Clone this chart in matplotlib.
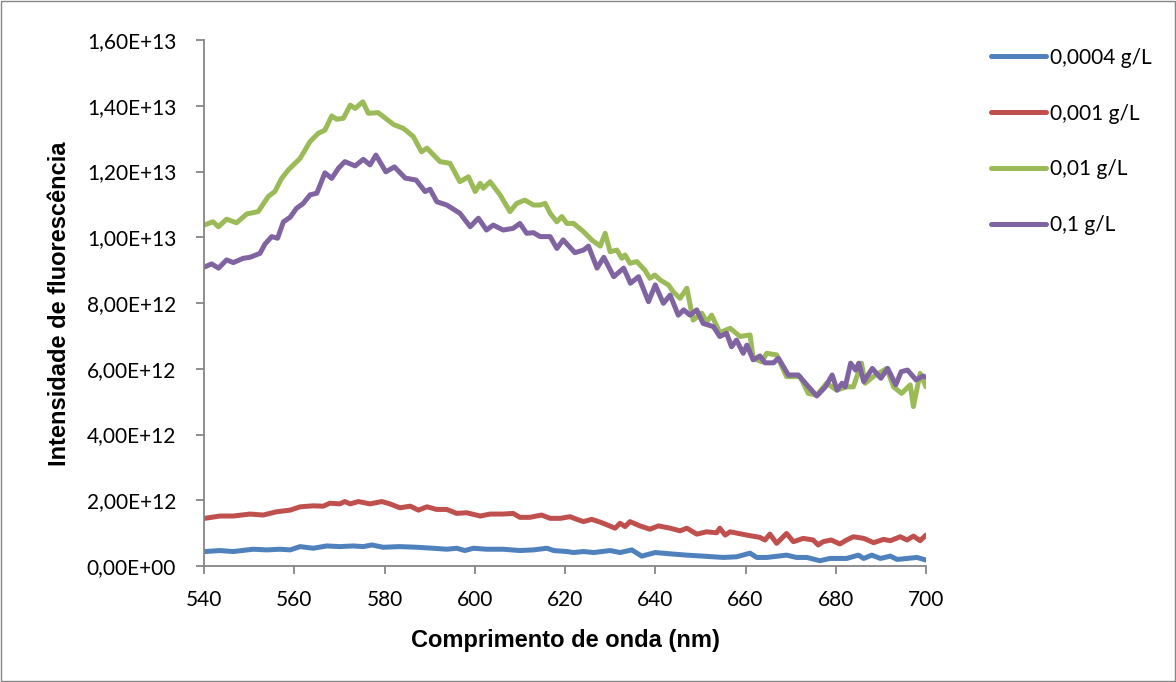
#!/usr/bin/env python3
"""Fluorescence emission spectra for four concentrations."""

import matplotlib
matplotlib.use("Agg")
import matplotlib.pyplot as plt
from matplotlib.patches import Rectangle
from matplotlib.ticker import FuncFormatter, MultipleLocator

# values in units of 1e12
wl_0004 = [540.2, 543.5, 546.5, 550.9, 553.9, 556.8, 559.1, 561.3, 564.2, 567.2, 570.1,
           573.1, 575.3, 577.2, 579.7, 583.4, 587.1, 590.8, 593.8, 596.0, 597.8, 599.7,
           602.6, 606.3, 610.0, 613.0, 616.0, 617.5, 620.4, 621.9, 624.1, 626.4, 630.0,
           632.2, 634.8, 637.0, 640.0, 643.3, 647.0, 650.6, 655.1, 658.0, 661.0, 662.5,
           664.7, 669.1, 671.3, 673.6, 676.5, 678.7, 682.4, 685.0, 686.2, 688.0, 689.9,
           692.1, 693.6, 695.8, 698.0, 700.0]
int_0004 = [0.44, 0.47, 0.44, 0.51, 0.49, 0.51, 0.49, 0.59, 0.54, 0.61, 0.59,
            0.61, 0.59, 0.64, 0.57, 0.59, 0.57, 0.54, 0.51, 0.54, 0.47, 0.54,
            0.51, 0.51, 0.47, 0.49, 0.54, 0.47, 0.44, 0.41, 0.44, 0.41, 0.47,
            0.41, 0.49, 0.30, 0.41, 0.37, 0.33, 0.30, 0.26, 0.28, 0.39, 0.26,
            0.26, 0.33, 0.26, 0.26, 0.16, 0.23, 0.23, 0.33, 0.23, 0.33, 0.23,
            0.30, 0.20, 0.23, 0.26, 0.18]

wl_001 = [540.2, 543.5, 546.5, 550.2, 553.1, 556.1, 559.1, 561.3, 564.2, 566.4, 567.9,
          570.1, 571.2, 572.4, 574.2, 576.8, 579.4, 581.2, 583.4, 585.7, 587.5, 589.4,
          591.6, 593.8, 596.0, 598.2, 601.2, 603.4, 606.3, 608.5, 610.0, 612.2, 614.8,
          616.7, 619.0, 621.1, 622.6, 624.1, 625.9, 628.1, 631.1, 632.2, 633.3, 634.4,
          636.6, 638.8, 640.7, 643.3, 645.5, 647.0, 649.2, 651.4, 653.6, 654.3, 655.5,
          656.6, 660.3, 663.2, 664.3, 665.4, 666.9, 669.1, 670.6, 672.8, 675.0, 676.1,
          677.2, 679.0, 680.9, 682.4, 683.9, 686.2, 688.4, 690.6, 692.1, 694.3, 695.8,
          697.2, 698.7, 700.0]
int_001 = [1.45, 1.52, 1.52, 1.58, 1.55, 1.65, 1.70, 1.80, 1.83, 1.82, 1.91,
           1.89, 1.96, 1.89, 1.96, 1.89, 1.96, 1.89, 1.77, 1.82, 1.70, 1.80,
           1.72, 1.72, 1.60, 1.62, 1.52, 1.58, 1.58, 1.60, 1.48, 1.48, 1.55,
           1.45, 1.45, 1.50, 1.42, 1.35, 1.42, 1.32, 1.15, 1.30, 1.20, 1.35,
           1.22, 1.12, 1.22, 1.15, 1.07, 1.15, 0.97, 1.04, 1.01, 1.15, 0.94,
           1.04, 0.94, 0.87, 0.79, 0.97, 0.69, 0.99, 0.74, 0.84, 0.79, 0.64,
           0.74, 0.79, 0.67, 0.79, 0.89, 0.84, 0.71, 0.81, 0.77, 0.89, 0.79,
           0.91, 0.77, 0.94]

wl_01 = [540.0, 542.0, 543.2, 545.0, 547.2, 549.5, 552.0, 554.3, 555.7, 557.2, 558.7,
         561.3, 563.5, 565.3, 566.8, 568.3, 569.4, 570.9, 572.4, 573.5, 575.2, 576.4,
         578.6, 582.0, 584.2, 586.4, 588.2, 589.4, 592.3, 594.5, 596.7, 598.6, 600.1,
         601.2, 601.9, 603.4, 605.6, 607.8, 609.3, 611.1, 613.0, 614.5, 615.6, 616.7,
         618.2, 619.3, 620.4, 621.9, 624.1, 625.9, 627.8, 628.9, 630.0, 631.5, 632.6,
         633.3, 634.4, 635.9, 637.7, 638.8, 639.9, 641.1, 642.9, 644.0, 645.5, 647.0,
         648.4, 650.3, 651.4, 652.5, 654.3, 656.6, 658.8, 661.0, 661.7, 663.6, 664.7,
         666.9, 669.1, 672.1, 673.9, 675.8, 678.0, 680.2, 682.4, 683.9, 685.7, 686.5,
         688.3, 691.3, 692.8, 694.6, 696.5, 697.2, 698.7, 700.0]
int_01 = [10.37, 10.47, 10.32, 10.55, 10.44, 10.71, 10.78, 11.25, 11.39, 11.79, 12.05,
          12.40, 12.91, 13.16, 13.26, 13.69, 13.59, 13.62, 14.02, 13.92, 14.12, 13.77,
          13.79, 13.43, 13.31, 13.06, 12.60, 12.71, 12.30, 12.25, 11.69, 11.84, 11.39,
          11.64, 11.49, 11.69, 11.29, 10.78, 11.03, 11.13, 10.98, 10.98, 11.03, 10.73,
          10.47, 10.63, 10.42, 10.42, 10.17, 9.92, 9.73, 10.12, 9.56, 9.61, 9.36,
          9.46, 9.21, 9.26, 9.00, 8.75, 8.85, 8.70, 8.55, 8.34, 8.14, 8.45,
          7.48, 7.69, 7.43, 7.63, 7.10, 7.23, 6.98, 7.03, 6.32, 6.21, 6.47,
          6.42, 5.76, 5.76, 5.25, 5.20, 5.56, 5.35, 5.45, 5.45, 6.17, 5.56,
          5.76, 6.01, 5.45, 5.25, 5.51, 4.85, 5.86, 5.45]

wl_1 = [540.2, 541.7, 543.2, 545.0, 546.5, 548.7, 550.2, 552.4, 553.5, 555.0, 556.3,
        557.6, 559.1, 560.5, 562.0, 563.5, 565.0, 566.8, 568.3, 569.8, 571.2, 573.5,
        575.3, 576.8, 578.1, 580.3, 582.2, 584.6, 587.0, 589.0, 590.1, 591.6, 593.8,
        596.7, 599.0, 600.8, 602.6, 604.1, 606.3, 608.5, 610.0, 611.5, 613.0, 614.5,
        616.7, 618.2, 619.6, 622.2, 624.1, 625.2, 627.1, 628.6, 630.8, 633.0, 634.5,
        636.3, 638.5, 640.0, 641.8, 643.3, 645.1, 646.3, 647.7, 649.2, 650.6, 652.9,
        654.3, 655.8, 656.9, 658.0, 659.5, 660.3, 661.7, 663.2, 664.3, 666.2, 667.3,
        669.5, 671.7, 673.6, 675.8, 677.7, 679.2, 680.3, 681.4, 682.1, 683.3, 684.4,
        685.1, 686.2, 688.1, 690.0, 691.5, 693.3, 694.5, 695.9, 697.8, 699.3, 700.0]
int_1 = [9.10, 9.19, 9.06, 9.31, 9.23, 9.36, 9.39, 9.51, 9.79, 10.02, 9.97,
         10.47, 10.61, 10.88, 11.03, 11.29, 11.34, 11.96, 11.79, 12.10, 12.30, 12.17,
         12.37, 12.20, 12.50, 11.99, 12.14, 11.80, 11.74, 11.39, 11.46, 11.08, 10.98,
         10.73, 10.32, 10.58, 10.22, 10.37, 10.22, 10.27, 10.42, 10.12, 10.14, 10.02,
         10.02, 9.66, 9.92, 9.53, 9.61, 9.73, 9.06, 9.39, 8.80, 9.06, 8.60,
         8.80, 8.04, 8.55, 7.99, 8.24, 7.63, 7.79, 7.63, 7.79, 7.38, 7.28,
         6.98, 7.08, 6.67, 6.87, 6.47, 6.72, 6.27, 6.39, 6.18, 6.18, 6.32,
         5.81, 5.81, 5.51, 5.17, 5.45, 5.81, 5.35, 5.56, 5.45, 6.17, 5.96,
         6.17, 5.61, 6.01, 5.71, 6.01, 5.51, 5.91, 5.96, 5.66, 5.78, 5.74]

series = [
    ("0,0004 g/L", wl_0004, int_0004, "#4F81BD"),
    ("0,001 g/L", wl_001, int_001, "#C0504D"),
    ("0,01 g/L", wl_01, int_01, "#9BBB59"),
    ("0,1 g/L", wl_1, int_1, "#8064A2"),
]

W, H = 1176, 682
fig = plt.figure(figsize=(W / 100, H / 100), dpi=100)
ax = fig.add_axes([204 / W, 1 - 566 / H, (926 - 204) / W, (566 - 40) / H])

for label, x, y, color in series:
    ax.plot(x, [v * 1e12 for v in y], color=color, linewidth=3.6, label=label,
            solid_joinstyle="round", solid_capstyle="round")

ax.set_xlim(540, 700)
ax.set_ylim(0, 1.6e13)
ax.xaxis.set_major_locator(MultipleLocator(20))
ax.yaxis.set_major_locator(MultipleLocator(2e12))


def sci_comma(v, pos):
    if v == 0:
        return "0,00E+00"
    s = f"{v:.2E}"
    mant, exp = s.split("E")
    return f"{mant.replace('.', ',')}E{exp[0]}{int(exp[1:]):02d}"


ax.yaxis.set_major_formatter(FuncFormatter(sci_comma))

axis_gray = "#868686"
for side in ("top", "right"):
    ax.spines[side].set_visible(False)
for side in ("left", "bottom"):
    ax.spines[side].set_color(axis_gray)
    ax.spines[side].set_linewidth(1.3)
ax.tick_params(axis="both", colors=axis_gray, width=1.3, length=6, labelcolor="black",
               labelsize=15)
ax.tick_params(axis="x", pad=11)
ax.tick_params(axis="y", pad=14)
for lbl in ax.get_xticklabels() + ax.get_yticklabels():
    lbl.set_fontfamily("Lato")

fig.text(565 / W, 1 - 640 / H, "Comprimento de onda (nm)", fontsize=17,
         fontweight="bold", family="Liberation Sans", ha="center", va="center")
fig.text(60 / W, 1 - 304 / H, "Intensidade de fluorescência", fontsize=17,
         fontweight="bold", family="Liberation Sans", ha="center", va="center",
         rotation=90)

leg = ax.legend(loc="upper left", bbox_to_anchor=(972 / W, 1 - 29 / H),
                bbox_transform=fig.transFigure, frameon=False,
                prop={"family": "Lato", "size": 15}, handlelength=2.65,
                handletextpad=0.2, labelspacing=1.72)
for line in leg.get_lines():
    line.set_linewidth(3.6)

fig.patches.append(Rectangle((1 / W, 1 / H), (W - 2) / W, (H - 2) / H,
                             transform=fig.transFigure, fill=False,
                             edgecolor="#868686", linewidth=1.0))

fig.savefig("out.png", dpi=100)
print("wrote out.png")
